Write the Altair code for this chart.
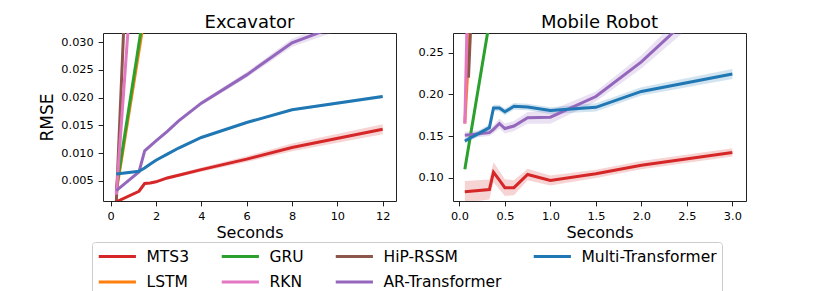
import altair as alt
import pandas as pd

# ---------------- data ----------------
LEGEND_ORDER = ["MTS3", "LSTM", "GRU", "RKN", "HiP-RSSM", "AR-Transformer", "Multi-Transformer"]
LEGEND_COLORS = ["#d62728", "#ff7f0e", "#2ca02c", "#e377c2", "#8c564b", "#9467bd", "#1f77b4"]

# Excavator
exc_x = [0.25, 1.25, 1.5, 1.75, 2, 2.5, 3, 4, 6, 8, 12]
exc_mts3 = [0.0012, 0.0031, 0.0045, 0.0046, 0.0048, 0.0055, 0.0060, 0.0070, 0.0089, 0.0110, 0.0143]
exc_mts3_err = [0.0002, 0.0002, 0.0002, 0.0002, 0.0002, 0.0003, 0.0003, 0.0004, 0.0005, 0.0007, 0.0009]
exc_multi = [0.0062, 0.0067, 0.0073, 0.0080, 0.0087, 0.0098, 0.0109, 0.0128, 0.0155, 0.0178, 0.0202]
exc_multi_err = [0.0002, 0.0002, 0.0002, 0.0002, 0.0002, 0.0002, 0.0002, 0.0002, 0.0002, 0.0002, 0.0003]
exc_ar = [0.0032, 0.0066, 0.0104, 0.0113, 0.0122, 0.0139, 0.0158, 0.0190, 0.0241, 0.0299, 0.0360]
exc_ar_err = [0.0002, 0.0002, 0.0003, 0.0003, 0.0003, 0.0003, 0.0003, 0.0004, 0.0005, 0.0007, 0.0012]
exc_steep_x = [0.25, 2.0]
exc_lstm = [0.0030, 0.0475]
exc_gru = [0.0035, 0.0495]
exc_steep2_x = [0.25, 1.0]
exc_hip = [0.0012, 0.0730]
exc_rkn = [0.0025, 0.0455]

# Mobile Robot
mob_x = [0.06, 0.33, 0.375, 0.44, 0.5, 0.6, 0.75, 1.0, 1.5, 2.0, 3.0]
mob_mts3 = [0.083, 0.0857, 0.1066, 0.097, 0.088, 0.088, 0.1038, 0.0967, 0.1046, 0.1150, 0.1303]
mob_mts3_err = [0.013, 0.012, 0.012, 0.011, 0.010, 0.009, 0.007, 0.006, 0.005, 0.005, 0.005]
mob_multi = [0.144, 0.160, 0.1836, 0.1836, 0.179, 0.1856, 0.1848, 0.1805, 0.1844, 0.2035, 0.2245]
mob_multi_err = [0.003, 0.004, 0.004, 0.004, 0.004, 0.004, 0.004, 0.004, 0.005, 0.005, 0.006]
mob_ar = [0.151, 0.154, 0.158, 0.165, 0.159, 0.162, 0.1718, 0.1726, 0.1974, 0.2389, 0.340]
mob_ar_err = [0.004, 0.004, 0.005, 0.006, 0.006, 0.006, 0.007, 0.008, 0.006, 0.008, 0.015]
mob_steep_x = [0.06, 0.33]
mob_lstm = [0.165, 0.70]
mob_gru = [0.110, 0.287]
mob_rkn = [0.165, 1.50]
mob_hip_x = [0.10, 0.33]
mob_hip = [0.22, 0.80]

X_TITLE = "Seconds"
Y_TITLE = "RMSE"


def rows(panel, model, xs, ys, errs=None):
    out = []
    for i, (x, y) in enumerate(zip(xs, ys)):
        e = errs[i] if errs else abs(y) * 0.03
        out.append({"panel": panel, "model": model, "x": x, "y": y,
                    "lo": y - e, "hi": y + e})
    return out


exc_rows = (rows("Excavator", "LSTM", exc_steep_x, exc_lstm)
            + rows("Excavator", "GRU", exc_steep_x, exc_gru)
            + rows("Excavator", "HiP-RSSM", exc_steep2_x, exc_hip)
            + rows("Excavator", "RKN", exc_steep2_x, exc_rkn)
            + rows("Excavator", "AR-Transformer", exc_x, exc_ar, exc_ar_err)
            + rows("Excavator", "Multi-Transformer", exc_x, exc_multi, exc_multi_err)
            + rows("Excavator", "MTS3", exc_x, exc_mts3, exc_mts3_err))
mob_rows = (rows("Mobile Robot", "LSTM", mob_steep_x, mob_lstm)
            + rows("Mobile Robot", "GRU", mob_steep_x, mob_gru)
            + rows("Mobile Robot", "HiP-RSSM", mob_hip_x, mob_hip)
            + rows("Mobile Robot", "RKN", mob_steep_x, mob_rkn)
            + rows("Mobile Robot", "AR-Transformer", mob_x, mob_ar, mob_ar_err)
            + rows("Mobile Robot", "Multi-Transformer", mob_x, mob_multi, mob_multi_err)
            + rows("Mobile Robot", "MTS3", mob_x, mob_mts3, mob_mts3_err))

exc_df = pd.DataFrame(exc_rows)
mob_df = pd.DataFrame(mob_rows)

FONT = "DejaVu Sans"
COLOR_SCALE = alt.Scale(domain=LEGEND_ORDER, range=LEGEND_COLORS)
LEGEND = alt.Legend(title=None, orient="none", legendX=-11, legendY=209, columns=4)


def panel(df, title, xdom, ydom, xticks, yticks, xfmt, yfmt, ytitle):
    xs = alt.Scale(domain=xdom, nice=False, zero=False)
    ys = alt.Scale(domain=ydom, nice=False, zero=False)
    xaxis = alt.Axis(values=xticks, format=xfmt, title=X_TITLE, labelFlush=False, labelOverlap=False)
    yaxis = alt.Axis(values=yticks, format=yfmt, title=ytitle, labelOverlap=False)
    band = alt.Chart(df).mark_area(clip=True, opacity=0.2).encode(
        x=alt.X("x:Q", scale=xs, axis=xaxis),
        y=alt.Y("lo:Q", scale=ys, axis=yaxis, stack=None),
        y2="hi:Q",
        color=alt.Color("model:N", scale=COLOR_SCALE, legend=LEGEND),
    )
    line = alt.Chart(df).mark_line(clip=True, strokeWidth=3).encode(
        x=alt.X("x:Q", scale=xs, axis=xaxis),
        y=alt.Y("y:Q", scale=ys, axis=yaxis),
        color=alt.Color("model:N", scale=COLOR_SCALE, legend=LEGEND),
    )
    return alt.layer(band, line).properties(width=293, height=168, title=title)


left = panel(exc_df, "Excavator", [-0.3375, 12.5875], [0.00134, 0.03166],
             [0, 2, 4, 6, 8, 10, 12], [0.005, 0.010, 0.015, 0.020, 0.025, 0.030],
             "d", ".3f", Y_TITLE)
right = panel(mob_df, "Mobile Robot", [-0.07, 3.15], [0.072, 0.2736],
              [0.0, 0.5, 1.0, 1.5, 2.0, 2.5, 3.0], [0.10, 0.15, 0.20, 0.25],
              ".1f", ".2f", "")

chart = alt.hconcat(left, right, spacing=57, bounds="flush").properties(
    padding={"left": 30, "top": 5, "right": 5, "bottom": 0}
).configure_view(
    stroke="#222222", strokeWidth=1
).configure_axis(
    domain=False, grid=False, ticks=True, tickColor="#222222", tickSize=4.9,
    labelPadding=4.9, labelFont=FONT, labelFontSize=11.3, labelColor="black",
    titleFont=FONT, titleFontSize=16, titleFontWeight="normal", titleColor="black",
).configure_axisY(titleFontSize=17, titlePadding=4).configure_axisX(titlePadding=2).configure_title(
    font=FONT, fontSize=18, fontWeight="normal", color="black", anchor="middle", offset=1
).configure_legend(
    symbolType="M-1,0H3.8", symbolSize=240, symbolStrokeWidth=3, symbolOpacity=1,
    labelFont=FONT, labelFontSize=15.5, labelOffset=30.5, columnPadding=25, rowPadding=7.5,
    padding=5, strokeColor="#cccccc", cornerRadius=3, fillColor="white",
    labelLimit=300, labelColor="black"
)

chart.save("out.html", embed_options={"renderer": "svg", "actions": False})
